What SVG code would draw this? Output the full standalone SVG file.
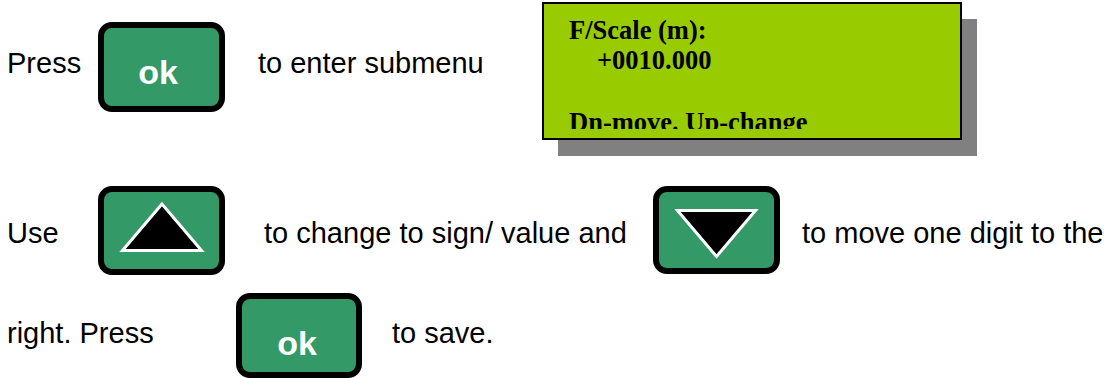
<svg xmlns="http://www.w3.org/2000/svg" width="1110" height="378" viewBox="0 0 1110 378">
<defs>
<style>
.t{font-family:"Liberation Sans",Arial,sans-serif;font-size:29px;fill:#000}
.btn{fill:#339966;stroke:#000;stroke-width:6}
.ok{font-family:"Liberation Sans",Arial,sans-serif;font-size:34px;font-weight:bold;fill:#fff;text-anchor:middle}
.tri{fill:#000;stroke:#fff;stroke-width:3;stroke-linejoin:miter}
.lcd{font-family:"Liberation Serif","Times New Roman",serif;font-size:26.5px;font-weight:bold;fill:#000}
</style>
<clipPath id="lcdclip"><rect x="544" y="4" width="416" height="125"/></clipPath>
</defs>
<rect width="1110" height="378" fill="#fff"/>
<g id="line1">
<text class="t" x="7" y="73">Press</text>
<text class="t" x="258" y="73">to enter submenu</text>
</g>
<g id="ok-button-1">
<rect class="btn" x="101" y="25" width="121" height="84" rx="11"/>
<text class="ok" x="158" y="84">ok</text>
</g>
<g id="lcd">
<rect x="558" y="19" width="419" height="137" fill="#808080"/>
<rect x="543" y="3" width="418" height="136" fill="#99cc00" stroke="#000" stroke-width="2"/>
<g clip-path="url(#lcdclip)">
<text class="lcd" x="569" y="39">F/Scale (m):</text>
<text class="lcd" x="597" y="69">+0010.000</text>
<text class="lcd" x="569" y="130.5">Dn-move. Up-change</text>
</g>
</g>
<g id="line2">
<text class="t" x="7" y="243">Use</text>
<text class="t" x="264" y="243">to change to sign/ value and</text>
<text class="t" x="802" y="243">to move one digit to the</text>
</g>
<g id="up-button">
<rect class="btn" x="101" y="189" width="121" height="83" rx="11"/>
<polygon class="tri" points="162,204 122.5,250.5 201.5,250.5"/>
</g>
<g id="down-button">
<rect class="btn" x="656" y="189" width="121" height="82" rx="11"/>
<polygon class="tri" points="677.5,210.5 755.5,210.5 716.5,256.5"/>
</g>
<g id="line3">
<text class="t" x="7" y="343">right. Press</text>
<text class="t" x="392" y="343">to save.</text>
</g>
<g id="ok-button-2">
<rect class="btn" x="239" y="296" width="120" height="79" rx="11"/>
<text class="ok" x="297" y="355">ok</text>
</g>
<g id="connectors"/>
</svg>
